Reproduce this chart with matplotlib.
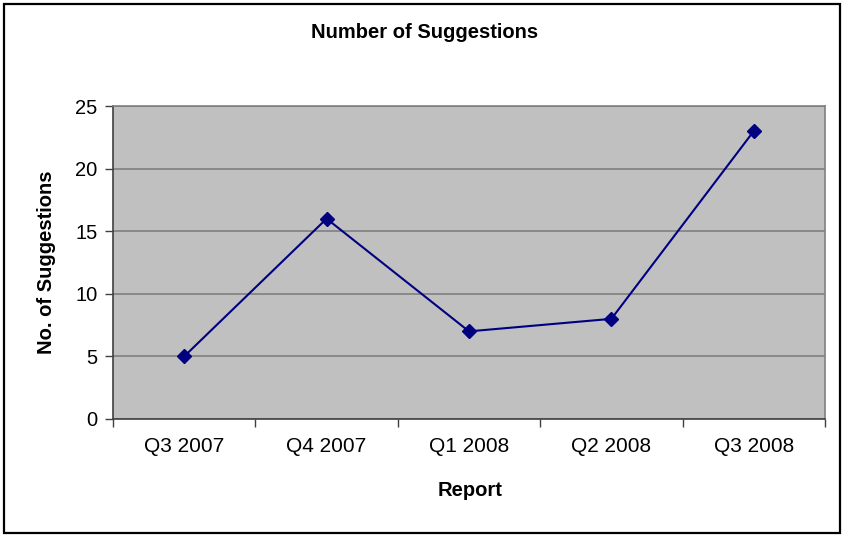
import matplotlib
matplotlib.use("Agg")
import matplotlib.pyplot as plt
from matplotlib.patches import Rectangle
import numpy as np

plt.rcParams['font.family'] = ['Liberation Sans', 'DejaVu Sans']

categories = ["Q3 2007", "Q4 2007", "Q1 2008", "Q2 2008", "Q3 2008"]
suggestions = [5, 16, 7, 8, 23]
y_ticks = [0, 5, 10, 15, 20, 25]

W, H = 843, 537
fig = plt.figure(figsize=(W / 100, H / 100), dpi=100)
fig.patch.set_facecolor("white")

# outer frame of the chart
fig.add_artist(Rectangle((4 / W, 4 / H), 836 / W, 529 / H, transform=fig.transFigure,
                         fill=False, edgecolor="black", linewidth=1.6))

left, right, top, bottom = 113, 825, 106, 419
ax = fig.add_axes([left / W, (H - bottom) / H, (right - left) / W, (bottom - top) / H])
ax.set_facecolor("#C0C0C0")

x = np.arange(len(categories))
ax.set_xlim(-0.5, len(categories) - 0.5)
ax.set_ylim(0, 25)
ax.set_yticks(y_ticks)
ax.set_yticklabels([str(v) for v in y_ticks], fontsize=14.5)
ax.yaxis.grid(True, color="#808080", linewidth=1.2)
ax.set_axisbelow(True)

ax.set_xticks(np.arange(-0.5, len(categories)), minor=False)
ax.set_xticklabels([])
ax.set_xticks(x, minor=True)
ax.set_xticklabels(categories, minor=True, fontsize=15)
ax.tick_params(axis="x", which="minor", length=0, pad=13)
ax.tick_params(axis="x", which="major", length=6, width=1, color="#404040")
ax.tick_params(axis="y", length=6, width=1, color="#404040", pad=5)

for s in ["top", "right"]:
    ax.spines[s].set_color("#808080")
    ax.spines[s].set_linewidth(1.2)
for s in ["left", "bottom"]:
    ax.spines[s].set_color("#404040")
    ax.spines[s].set_linewidth(1.2)

ax.plot(x, suggestions, color="#000080", linewidth=1.5, marker="D", markersize=7,
        markerfacecolor="#000080", markeredgecolor="#000080", clip_on=False, zorder=3)

fig.text(425 / W, 1 - 32 / H, "Number of Suggestions", ha="center", va="center",
         fontsize=14.5, fontweight="bold")
fig.text(470 / W, 1 - 491 / H, "Report", ha="center", va="center",
         fontsize=14.5, fontweight="bold")
fig.text(47 / W, 1 - 262 / H, "No. of Suggestions", ha="center", va="center",
         rotation=90, fontsize=14.5, fontweight="bold")

fig.savefig("out.png", dpi=100)
